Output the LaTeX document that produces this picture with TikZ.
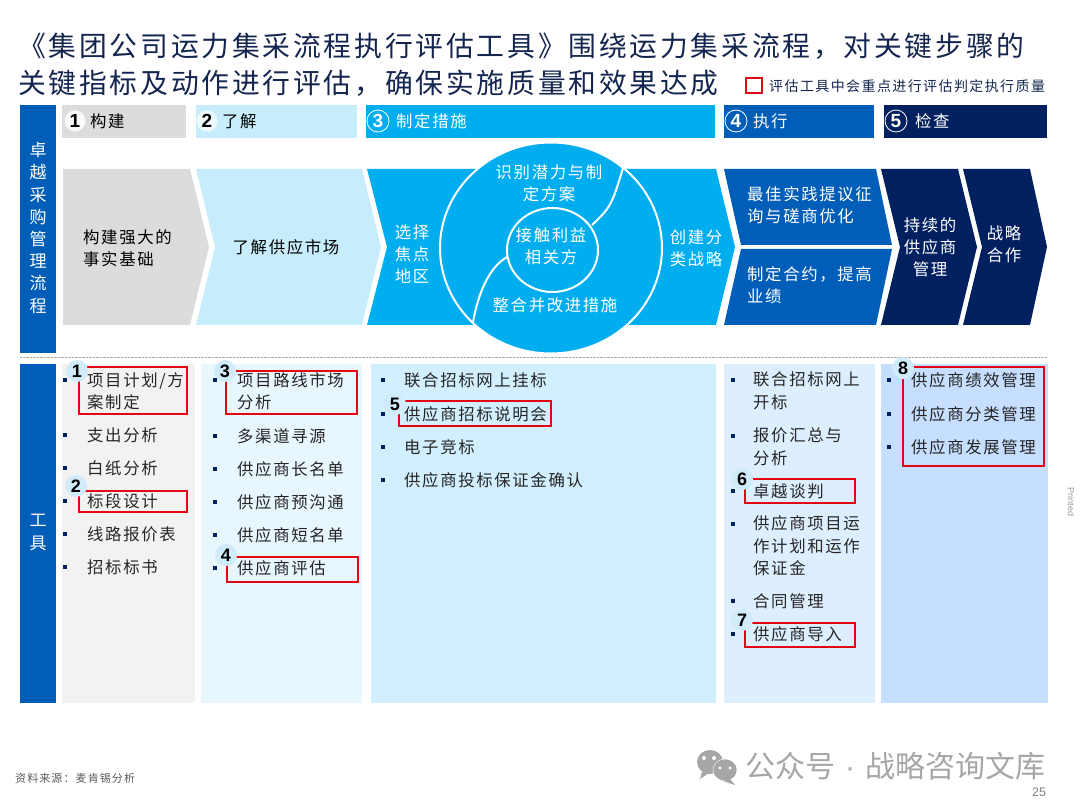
\documentclass[tikz,border=0pt]{standalone}
\usepackage{fontspec}
\setmainfont[LetterSpace=10]{Noto Sans CJK SC}
\newfontfamily\cjkplain{Noto Sans CJK SC}
\newfontfamily\numfont{Liberation Sans}
\definecolor{barblue}{HTML}{005EB8}
\definecolor{cyanblue}{HTML}{00AEEF}
\definecolor{paleblue}{HTML}{C7EDFD}
\definecolor{navyblue}{HTML}{002060}
\definecolor{greybox}{HTML}{DCDCDC}
\definecolor{titleblue}{HTML}{14264F}
\definecolor{markred}{HTML}{E30613}
\definecolor{colgrey}{HTML}{F2F2F2}
\definecolor{colone}{HTML}{E8F6FE}
\definecolor{coltwo}{HTML}{D2EFFF}
\definecolor{colthree}{HTML}{DDEEFF}
\definecolor{colfour}{HTML}{C6DEFF}
\definecolor{dotblue}{HTML}{D0ECFB}
\definecolor{markgrey}{HTML}{A6A6A6}
\tikzset{
	headtxt/.style={anchor=west, inner sep=0pt, font=\fontsize{16.4}{20}\selectfont},
	headnum/.style={circle, inner sep=0pt, minimum size=21pt, font=\numfont\bfseries\fontsize{19}{20}\selectfont},
	flowtxt/.style={inner sep=0pt, font=\fontsize{16.4}{22}\selectfont, text=white, align=center},
	itemtxt/.style={anchor=west, inner sep=0pt, font=\fontsize{16.4}{22.5}\selectfont, text=black!85, align=left},
	titletxt/.style={anchor=west, inner sep=0pt, text=titleblue, font=\fontsize{27.8}{30}\selectfont},
	bulletmark/.style={rectangle, fill=navyblue, inner sep=0pt, minimum size=4pt},
	redbox/.style={draw=markred, line width=2pt},
	numdot/.style={circle, fill=dotblue, inner sep=0pt, minimum size=22pt, font=\numfont\bfseries\fontsize{18}{20}\selectfont}
}
\begin{document}
\begin{tikzpicture}[x=1pt, y=-1pt]
	\useasboundingbox (0,0) rectangle (1080,810);

	% title
	\node[titletxt] (title1) at (18,46) {《集团公司运力集采流程执行评估工具》围绕运力集采流程，对关键步骤的};
	\node[titletxt] (title2) at (18,83) {关键指标及动作进行评估，确保实施质量和效果达成};
	\draw[redbox] (746,78) rectangle (762,93);
	\node[anchor=west, inner sep=0pt, text=titleblue, font=\fontsize{14}{16}\selectfont] (legend) at (769,86) {评估工具中会重点进行评估判定执行质量};

	% left bars
	\fill[barblue] (20,105) rectangle (56,353);
	\fill[barblue] (20,364) rectangle (56,703);
	\node[flowtxt, font=\fontsize{17}{22.2}\selectfont] (barflow) at (38,228) {卓\\越\\采\\购\\管\\理\\流\\程};
	\node[flowtxt, font=\fontsize{17}{23}\selectfont] (bartool) at (38,533) {工\\具};
	\draw[gray!70, densely dotted] (20,357) -- (1047,357);

	% header strip
	\fill[greybox] (62,105) rectangle (186,138);
	\fill[paleblue] (196,105) rectangle (357,138);
	\fill[cyanblue] (366,105) rectangle (715,138);
	\fill[barblue] (724,105) rectangle (874,138);
	\fill[navyblue] (884,105) rectangle (1047,138);
	\node[headnum, fill=white!85!greybox] (n1) at (75,121) {1};
	\node[headnum, fill=white!70!paleblue] (n2) at (207,121) {2};
	\node[headnum, draw=white, thick, text=white, minimum size=22pt] (n3) at (378,121) {3};
	\node[headnum, draw=white, thick, text=white, minimum size=22pt] (n4) at (736,121) {4};
	\node[headnum, draw=white, thick, text=white, minimum size=22pt] (n5) at (896,121) {5};
	\node[headtxt] (h1) at (90,121) {构建};
	\node[headtxt] (h2) at (222,121) {了解};
	\node[headtxt, text=white] (h3) at (396,121) {制定措施};
	\node[headtxt, text=white] (h4) at (753,121) {执行};
	\node[headtxt, text=white] (h5) at (915,121) {检查};

	% chevrons
	\fill[greybox] (63,169) -- (190,169) -- (209,247) -- (190,325) -- (63,325) -- cycle;
	\fill[paleblue] (196,169) -- (362,169) -- (381,247) -- (362,325) -- (196,325) -- (215,247) -- cycle;
	\fill[cyanblue] (367,169) -- (716,169) -- (735,247) -- (716,325) -- (367,325) -- (387,247) -- cycle;
	\fill[barblue] (724,169) -- (876,169) -- (892,245) -- (741,245) -- cycle;
	\fill[barblue] (741,249) -- (892,249) -- (876,325) -- (724,325) -- cycle;
	\fill[navyblue] (881,169) -- (958,169) -- (977,247) -- (958,325) -- (881,325) -- (900,247) -- cycle;
	\fill[navyblue] (963,169) -- (1030,169) -- (1047,247) -- (1030,325) -- (963,325) -- (982,247) -- cycle;

	% circle
	\draw[white, line width=2pt, fill=cyanblue] (551,248) ellipse (111 and 105.5);
	\draw[white, line width=2pt] (552.5,250) ellipse (45.5 and 42);
	\draw[white, line width=2pt] (623,168) .. controls (612,205) and (610,208) .. (592,225);
	\draw[white, line width=2pt] (507,257) .. controls (488,268) and (478,295) .. (473,322);

	\node[flowtxt, text=black, anchor=west, align=left] (f1) at (83,248) {构建强大的\\事实基础};
	\node[flowtxt, text=black] (f2) at (286,247) {了解供应市场};
	\node[flowtxt] (f3) at (412,254) {选择\\焦点\\地区};
	\node[flowtxt] (f4) at (549,183) {识别潜力与制\\定方案};
	\node[flowtxt] (f5) at (551,246) {接触利益\\相关方};
	\node[flowtxt] (f6) at (555,305) {整合并改进措施};
	\node[flowtxt] (f7) at (696,248) {创建分\\类战略};
	\node[flowtxt, anchor=west, align=left] (f8) at (747,205) {最佳实践提议征\\询与磋商优化};
	\node[flowtxt, anchor=west, align=left] (f9) at (747,285) {制定合约，提高\\业绩};
	\node[flowtxt] (f10) at (930,247) {持续的\\供应商\\管理};
	\node[flowtxt] (f11) at (1004,244) {战略\\合作};

	% tool columns
	\fill[colgrey] (62,364) rectangle (195,703);
	\fill[colone] (201,364) rectangle (362,703);
	\fill[coltwo] (371,364) rectangle (716,703);
	\fill[colthree] (724,364) rectangle (875,703);
	\fill[colfour] (881,364) rectangle (1048,703);

	% red marks
	\draw[redbox] (79,367) rectangle (187,414);
	\draw[redbox] (79,491) rectangle (187,512);
	\draw[redbox] (226,371) rectangle (357,414);
	\draw[redbox] (227,557) rectangle (358,582);
	\draw[redbox] (399,401) rectangle (551,426);
	\draw[redbox] (745,479) rectangle (855,503);
	\draw[redbox] (745,623) rectangle (855,647);
	\draw[redbox] (903,367) rectangle (1044,466);
	\node[numdot] (m1) at (77,371) {1};
	\node[numdot] (m2) at (76,486) {2};
	\node[numdot] (m3) at (225,371) {3};
	\node[numdot] (m4) at (226,555) {4};
	\node[numdot] (m5) at (395,404) {5};
	\node[numdot] (m6) at (742,479) {6};
	\node[numdot] (m7) at (742,620) {7};
	\node[numdot] (m8) at (903,368) {8};

	% tool items
	\foreach \i/\ty/\by/\t in {1/391/380/{项目计划/方\\案制定}, 2/435/435/支出分析, 3/468/468/白纸分析, 4/501/501/标段设计, 5/534/534/线路报价表, 6/567/567/招标标书}{
		\node[bulletmark] (ba\i) at (65,\by) {};
		\node[itemtxt] (ia\i) at (87,\ty) {\t};
	}
	\foreach \i/\ty/\by/\t in {1/391/380/项目路线市场\\分析, 2/436/436/多渠道寻源, 3/469/469/供应商长名单, 4/502/502/供应商预沟通, 5/535/535/供应商短名单, 6/568/568/供应商评估}{
		\node[bulletmark] (bb\i) at (215,\by) {};
		\node[itemtxt] (ib\i) at (237,\ty) {\t};
	}
	\foreach \i/\ty/\t in {1/380/联合招标网上挂标, 2/414/供应商招标说明会, 3/447/电子竞标, 4/480/供应商投标保证金确认}{
		\node[bulletmark] (bc\i) at (383,\ty) {};
		\node[itemtxt] (ic\i) at (404,\ty) {\t};
	}
	\foreach \i/\ty/\by/\t in {1/391/380/联合招标网上\\开标, 2/447/436/报价汇总与\\分析, 3/491/491/卓越谈判, 4/546/524/供应商项目运\\作计划和运作\\保证金, 5/601/601/合同管理, 6/634/634/供应商导入}{
		\node[bulletmark] (bd\i) at (733,\by) {};
		\node[itemtxt] (id\i) at (753,\ty) {\t};
	}
	\foreach \i/\ty/\t in {1/380/供应商绩效管理, 2/414/供应商分类管理, 3/447/供应商发展管理}{
		\node[bulletmark] (be\i) at (889,\ty) {};
		\node[itemtxt] (ie\i) at (911,\ty) {\t};
	}

	% footer
	\node[anchor=west, inner sep=0pt, text=black!65, font=\fontsize{11}{13}\selectfont] (source) at (15,778) {资料来源：麦肯锡分析};
	\fill[markgrey] (710,762) ellipse (13 and 12);
	\fill[markgrey] (702,772) -- (700,779) -- (709,773) -- cycle;
	\draw[white, fill=markgrey] (725,770) ellipse (12 and 11);
	\fill[markgrey] (730,779) -- (735,785) -- (723,781) -- cycle;
	\fill[white] (704,758) circle (2) (714,758) circle (2) (720,768) circle (1.7) (730,768) circle (1.7);
	\node[anchor=west, inner sep=0pt, text=markgrey, font=\cjkplain\fontsize{30}{34}\selectfont] (mark) at (745,766) {公众号\hspace{10pt}{\numfont ·}\hspace{10pt}战略咨询文库};
	\node[inner sep=0pt, text=black!50, font=\numfont\fontsize{12.5}{14}\selectfont] (page) at (1039,792) {25};
	\node[inner sep=0pt, rotate=-90, text=black!40, font=\numfont\fontsize{9}{11}\selectfont] (printed) at (1071,502) {Printed};
\end{tikzpicture}
\end{document}
